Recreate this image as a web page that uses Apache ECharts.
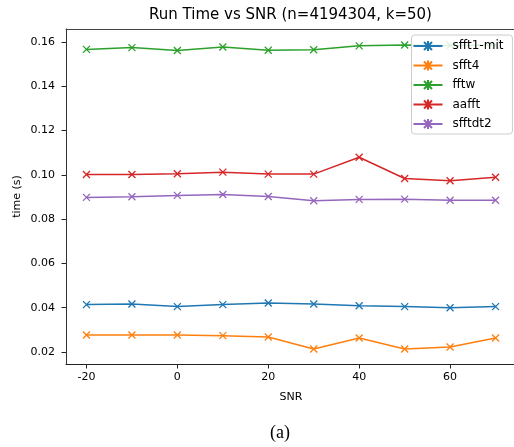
<!DOCTYPE html>
<html><head><meta charset="utf-8">
<script src="https://cdn.jsdelivr.net/npm/echarts@6/dist/echarts.min.js"></script>
<style>html,body{margin:0;padding:0;background:#fff}#c{width:514px;height:447px}</style>
</head><body><div id="c"></div>
<script>
const snr = [-20, -10, 0, 10, 20, 30, 40, 50, 60, 70];
const sfft1mit = [0.0414, 0.0417, 0.0405, 0.0414, 0.0421, 0.0417, 0.0409, 0.0405, 0.0400, 0.0405];
const sfft4 = [0.0277, 0.0277, 0.0277, 0.0274, 0.0268, 0.0214, 0.0263, 0.0214, 0.0223, 0.0263];
const fftw = [0.1566, 0.1574, 0.1561, 0.1577, 0.1562, 0.1564, 0.1582, 0.1586, 0.1584, 0.1585];
const aafft = [0.1001, 0.1001, 0.1005, 0.1012, 0.1003, 0.1003, 0.1079, 0.0983, 0.0973, 0.0989];
const sfftdt2 = [0.0898, 0.0901, 0.0907, 0.0911, 0.0902, 0.0883, 0.0889, 0.0890, 0.0885, 0.0885];
const xTicks = [-20, 0, 20, 40, 60];
const yTicks = [0.02, 0.04, 0.06, 0.08, 0.10, 0.12, 0.14, 0.16];
const names = ['sfft1-mit', 'sfft4', 'fftw', 'aafft', 'sfftdt2'];
const colors = ['#1f77b4', '#ff7f0e', '#2ca02c', '#d62728', '#9467bd'];
const values = [sfft1mit, sfft4, fftw, aafft, sfftdt2];

const font = 'DejaVu Sans';
const xMark = 'path://M0,0L10,10M10,0L0,10';
const legendIcon = 'path://M0,5L29,5M10.5,1L18.5,9M18.5,1L10.5,9M14.5,0L14.5,10';
const chart = echarts.init(document.getElementById('c'), null, {renderer: 'canvas'});
chart.setOption({
  animation: false,
  textStyle: {fontFamily: font},
  grid: {left: 66, top: 29, width: 450, height: 335, outerBoundsMode: 'none', containLabel: false, show: false},
  legend: {
    orient: 'vertical', left: 411.5, top: 35,
    itemWidth: 29, itemHeight: 10, itemGap: 7.5,
    padding: [5, 9, 4, 1],
    backgroundColor: 'rgba(255,255,255,0.85)', borderColor: '#cccccc', borderWidth: 1, borderRadius: 3,
    textStyle: {fontFamily: font, fontSize: 12, color: '#000', padding: [0, 0, 0, 5]},
    data: names.map(n => ({name: n, icon: legendIcon}))
  },
  xAxis: [{
    type: 'value', min: -24.5, max: 74.5,
    name: 'SNR', nameLocation: 'middle', nameGap: 28,
    nameTextStyle: {fontFamily: font, fontSize: 11, color: '#000'},
    axisLine: {show: true, onZero: false, lineStyle: {color: '#222', width: 1}},
    axisTick: {show: true, length: 4.5, customValues: xTicks, lineStyle: {color: '#222'}},
    axisLabel: {customValues: xTicks, margin: 8, fontFamily: font, fontSize: 11, color: '#000'},
    splitLine: {show: false}
  }, {
    type: 'value', position: 'top', min: -24.5, max: 74.5,
    axisLine: {show: true, onZero: false, lineStyle: {color: '#444', width: 1}},
    axisTick: {show: false}, axisLabel: {show: false}, splitLine: {show: false}
  }],
  yAxis: {
    type: 'value', min: 0.0146, max: 0.1658,
    name: 'time (s)', nameLocation: 'middle', nameGap: 43, nameRotate: 90, nameMoveOverlap: false,
    nameTextStyle: {fontFamily: font, fontSize: 11, color: '#000'},
    axisLine: {show: true, onZero: false, lineStyle: {color: '#333', width: 1}},
    axisTick: {show: true, length: 4.5, customValues: yTicks, lineStyle: {color: '#222'}},
    axisLabel: {customValues: yTicks, margin: 11, fontFamily: font, fontSize: 11, color: '#000',
      formatter: v => v.toFixed(2)},
    splitLine: {show: false}
  },
  graphic: [
    {type: 'text', silent: true, z: 100,
      style: {text: 'Run Time vs SNR (n=4194304, k=50)', x: 290.5, y: 15, textAlign: 'center', textVerticalAlign: 'middle',
        font: '15px "DejaVu Sans"', fill: '#000'}},
    {type: 'text', silent: true,
      style: {text: '(a)', x: 280, y: 433, textAlign: 'center', textVerticalAlign: 'middle',
        font: '18px "Liberation Serif"', fill: '#000'}}
  ],
  series: names.map((n, i) => ({
    name: n, type: 'line', xAxisIndex: 0,
    data: snr.map((x, j) => [x, values[i][j]]),
    symbol: xMark, symbolSize: 7, showSymbol: true,
    lineStyle: {color: colors[i], width: 1.5},
    itemStyle: {color: colors[i], borderColor: colors[i], borderWidth: 1.3},
    z: 2
  }))
});
</script></body></html>
